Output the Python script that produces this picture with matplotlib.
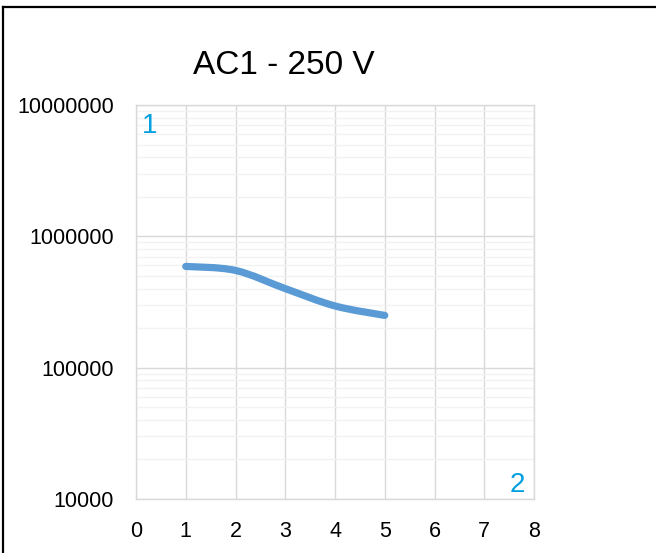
import numpy as np
import matplotlib
matplotlib.use("Agg")
import matplotlib.pyplot as plt
from matplotlib.path import Path
from matplotlib.patches import PathPatch
from matplotlib.lines import Line2D
from matplotlib.ticker import FixedLocator, NullFormatter, LogLocator

title = "AC1 - 250 V"
x_vals = [1, 2, 3, 4, 5]
y_vals = [590000, 550000, 400000, 295000, 250000]
x_ticks = [0, 1, 2, 3, 4, 5, 6, 7, 8]
y_ticks = [10000, 100000, 1000000, 10000000]
y_tick_labels = ["10000", "100000", "1000000", "10000000"]
corner_labels = ["1", "2"]

plt.rcParams['font.family'] = ['Liberation Sans', 'DejaVu Sans']

W, H = 656, 553
fig = plt.figure(figsize=(W/100, H/100), dpi=100)
ax = fig.add_axes([136/W, 1-499/H, (534-136)/W, (499-105)/H])
ax.set_yscale('log')
ax.set_xlim(0, 8)
ax.set_ylim(1e4, 1e7)

# smooth line (Catmull-Rom -> Bezier in log space)
lx = np.array(x_vals, float)
ly = np.log10(np.array(y_vals, float))
verts = [(lx[0], ly[0])]
codes = [Path.MOVETO]
n = len(lx)
for i in range(n - 1):
    p0 = np.array([lx[max(i-1, 0)], ly[max(i-1, 0)]])
    p1 = np.array([lx[i], ly[i]])
    p2 = np.array([lx[i+1], ly[i+1]])
    p3 = np.array([lx[min(i+2, n-1)], ly[min(i+2, n-1)]])
    c1 = p1 + (p2 - p0) / 6.0
    c2 = p2 - (p3 - p1) / 6.0
    verts += [tuple(c1), tuple(c2), tuple(p2)]
    codes += [Path.CURVE4] * 3
verts = [(vx, 10**vy) for vx, vy in verts]
patch = PathPatch(Path(verts, codes), facecolor='none', edgecolor='#5B9BD5',
                  lw=5.2, capstyle='round', joinstyle='round', zorder=3)
ax.add_patch(patch)

ax.xaxis.set_major_locator(FixedLocator(x_ticks))
ax.yaxis.set_major_locator(FixedLocator(y_ticks))
ax.set_yticklabels(y_tick_labels)
ax.yaxis.set_minor_locator(LogLocator(base=10, subs=np.arange(2, 10)))
ax.yaxis.set_minor_formatter(NullFormatter())
ax.grid(True, which='major', color='#d9d9d9', lw=1.0)
ax.grid(True, which='minor', axis='y', color='#f2f2f2', lw=1.0)
ax.set_axisbelow(True)
ax.tick_params(which='both', length=0, labelsize=15.5, colors='black')
ax.tick_params(axis='x', pad=16)
ax.tick_params(axis='y', pad=16)
for s in ax.spines.values():
    s.set_color('#d9d9d9')
    s.set_linewidth(1.0)

ax.text(0.014, 0.980, corner_labels[0], transform=ax.transAxes, color='#00A0E0',
        fontsize=20, ha='left', va='top')
ax.text(0.978, 0.018, corner_labels[1], transform=ax.transAxes, color='#00A0E0',
        fontsize=20, ha='right', va='baseline')

fig.text(284/W, 1-65/H, title, fontsize=24, ha='center', va='center')

# partial frame: top and left edges
fig.add_artist(Line2D([2.5/W, 2.5/W], [0, 1-6.5/H], transform=fig.transFigure,
                      color='black', lw=1.6, solid_capstyle='projecting'))
fig.add_artist(Line2D([2.5/W, 1], [1-6.5/H, 1-6.5/H], transform=fig.transFigure,
                      color='black', lw=1.6, solid_capstyle='projecting'))

fig.savefig('out.png', dpi=100)
